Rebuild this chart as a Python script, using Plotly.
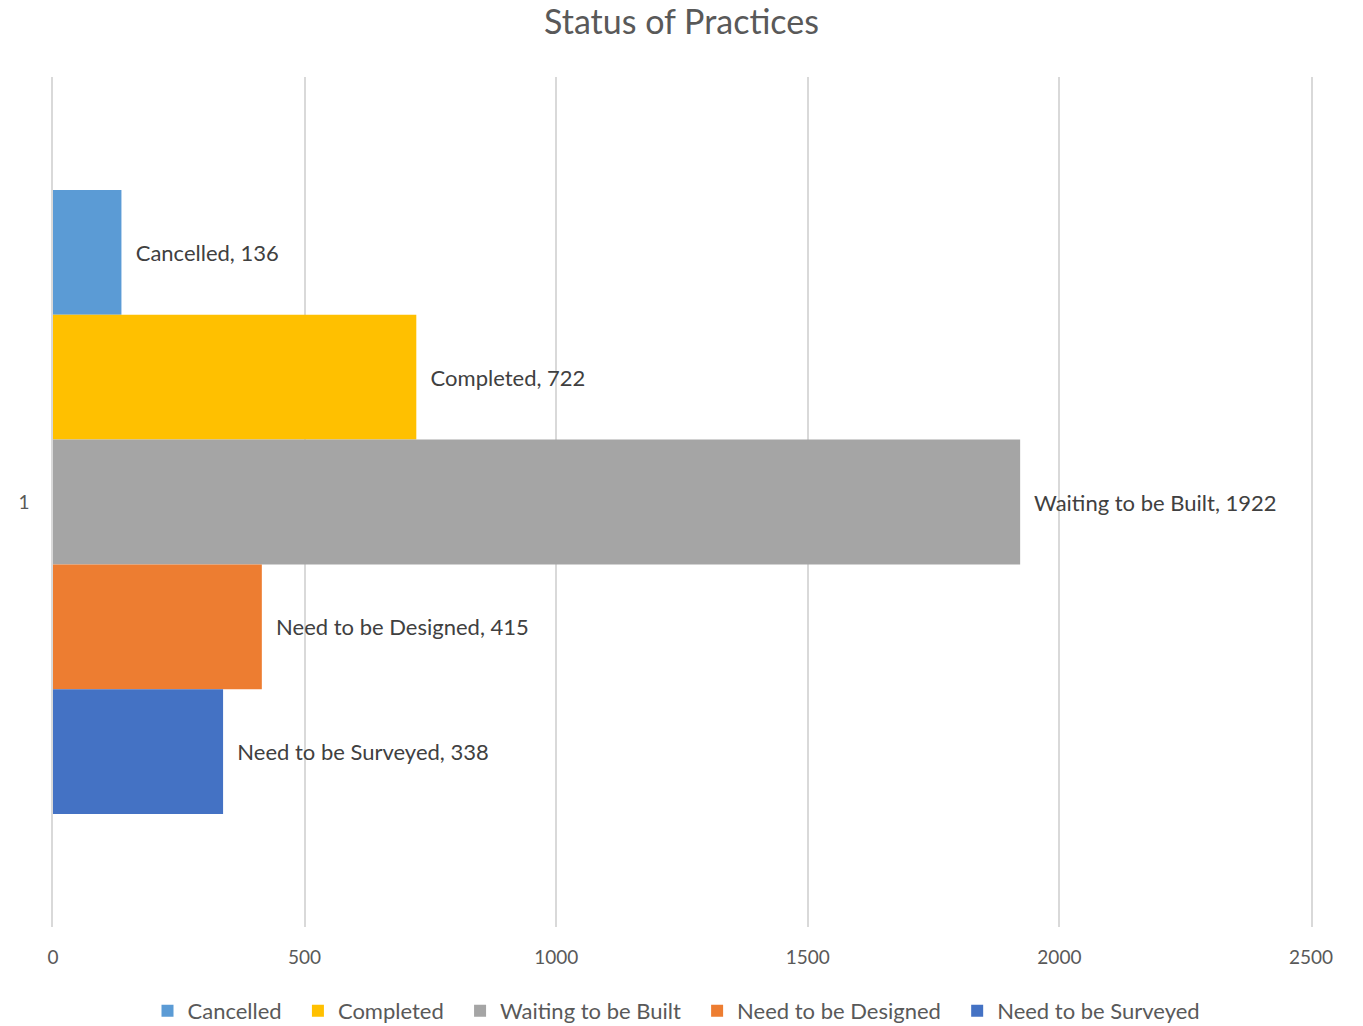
import plotly.graph_objects as go

categories = ["1"]
series_names = ["Cancelled", "Completed", "Waiting to be Built", "Need to be Designed", "Need to be Surveyed"]
series_values = [136, 722, 1922, 415, 338]
series_colors = ["#5B9BD5", "#FFC000", "#A5A5A5", "#ED7D31", "#4472C4"]
x_ticks = [0, 500, 1000, 1500, 2000, 2500]

FONT = "Lato"
NBSP = "\u00a0"

fig = go.Figure()
for name, val, col in zip(series_names, series_values, series_colors):
    fig.add_trace(go.Bar(
        y=categories, x=[val], name=name + NBSP * 2, orientation="h",
        marker=dict(color=col, line=dict(width=0)),
        text=[f"{name}, {val}"],
        texttemplate="  %{text}",
        textposition="outside",
        textfont=dict(family=FONT, size=22, color="#404040"),
        cliponaxis=False,
    ))

fig.update_layout(
    width=1363, height=1026,
    barmode="group",
    bargap=0.266,
    bargroupgap=0,
    plot_bgcolor="white",
    paper_bgcolor="white",
    margin=dict(l=53, r=52, t=77, b=99),
    title=dict(text="Status of Practices", x=0.5, xanchor="center",
               y=1 - 22 / 1026, yanchor="middle", yref="container",
               font=dict(family=FONT, size=34, color="#595959")),
    font=dict(family=FONT, size=18, color="#595959"),
    xaxis=dict(range=[0, 2500], tickvals=x_ticks, showgrid=True,
               gridcolor="#D9D9D9", gridwidth=1.5, zeroline=False,
               showline=False, ticks="", ticklen=0, ticklabelstandoff=17,
               tickfont=dict(family=FONT, size=19, color="#595959")),
    yaxis=dict(autorange="reversed", showgrid=False, zeroline=False,
               showline=True, linecolor="#D9D9D9", linewidth=1.5, mirror=True,
               ticks="", ticklabelstandoff=18,
               tickfont=dict(family=FONT, size=19, color="#595959")),
    legend=dict(orientation="h", x=0.5, xanchor="center",
                y=1 - 1011 / 1026, yanchor="middle", yref="container",
                font=dict(family=FONT, size=22, color="#595959"),
                itemwidth=30, traceorder="normal"),
    showlegend=True,
)

fig.write_html("out.html", config={"displayModeBar": False},
               post_script="document.body.style.margin='0';document.body.style.padding='0';")
